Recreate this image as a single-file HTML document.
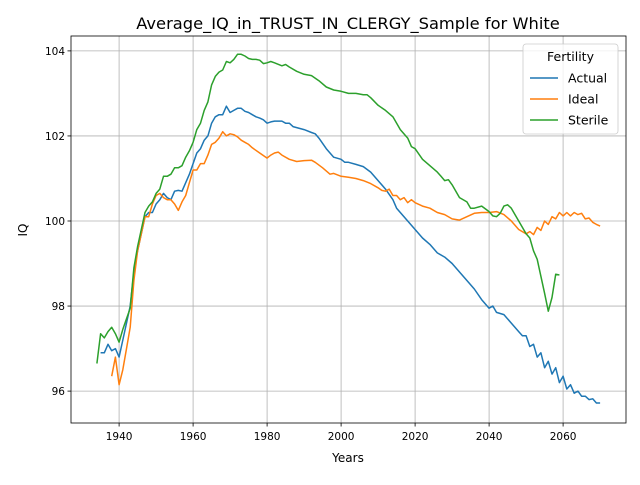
<!DOCTYPE html>
<html><head><meta charset="utf-8"><style>
body{margin:0;background:#fff;font-family:"Liberation Sans","DejaVu Sans",sans-serif}
svg text{font-family:"DejaVu Sans","Liberation Sans",sans-serif}
</style></head><body>
<svg id="chart" width="640" height="480" viewBox="0 0 640 480">
<rect width="640" height="480" fill="#fff"/>
<text x="348" y="29" font-size="16.3" text-anchor="middle">Average_IQ_in_TRUST_IN_CLERGY_Sample for White</text>
<g id="grid"></g><g id="series"></g><g id="axes"></g>
<text x="348" y="462" font-size="12" text-anchor="middle">Years</text>
<text x="27" y="230" font-size="12" text-anchor="middle" transform="rotate(-90 27 230)">IQ</text>
<g id="legend"></g>
</svg>
<script>
const actualYears=[1935,1936,1937,1938,1939,1940,1941,1942,1943,1944,1945,1946,1947,1948,1949,1950,1951,1952,1953,1954,1955,1956,1957,1958,1959,1960,1961,1962,1963,1964,1965,1966,1967,1968,1969,1970,1971,1972,1973,1974,1975,1976,1977,1978,1979,1980,1981,1982,1984,1985,1986,1987,1990,1992,1993,1994,1996,1997,1998,2000,2001,2002,2004,2006,2008,2010,2012,2014,2015,2016,2018,2020,2022,2024,2026,2028,2030,2032,2034,2036,2038,2040,2041,2042,2044,2046,2048,2049,2050,2051,2052,2053,2054,2055,2056,2057,2058,2059,2060,2061,2062,2063,2064,2065,2066,2067,2068,2069,2070];
const actualValues=[96.9,96.9,97.1,96.95,97.0,96.8,97.2,97.6,98.0,98.8,99.3,99.7,100.1,100.2,100.2,100.4,100.5,100.65,100.55,100.5,100.7,100.72,100.7,100.9,101.1,101.35,101.6,101.7,101.9,102.0,102.3,102.45,102.5,102.5,102.7,102.55,102.6,102.65,102.65,102.58,102.55,102.5,102.45,102.42,102.38,102.3,102.33,102.35,102.35,102.3,102.3,102.22,102.15,102.08,102.05,101.95,101.7,101.6,101.5,101.45,101.38,101.38,101.33,101.28,101.15,100.95,100.75,100.5,100.3,100.2,100.0,99.8,99.6,99.45,99.25,99.15,99.0,98.8,98.6,98.4,98.15,97.95,98.0,97.85,97.8,97.6,97.4,97.3,97.3,97.05,97.1,96.8,96.9,96.55,96.7,96.4,96.55,96.2,96.35,96.05,96.15,95.95,96.0,95.88,95.88,95.8,95.82,95.72,95.72];
const idealYears=[1938,1939,1940,1941,1942,1943,1944,1945,1946,1947,1948,1949,1950,1951,1952,1953,1954,1955,1956,1957,1958,1959,1960,1961,1962,1963,1964,1965,1966,1967,1968,1969,1970,1971,1972,1973,1974,1975,1976,1978,1980,1981,1982,1983,1984,1986,1988,1990,1992,1993,1995,1997,1998,2000,2002,2004,2006,2008,2010,2011,2012,2013,2014,2015,2016,2017,2018,2019,2020,2022,2024,2026,2028,2030,2032,2034,2036,2038,2040,2042,2044,2046,2048,2050,2051,2052,2053,2054,2055,2056,2057,2058,2059,2060,2061,2062,2063,2064,2065,2066,2067,2068,2069,2070];
const idealValues=[96.35,96.8,96.15,96.5,97.0,97.5,98.6,99.3,99.7,100.1,100.1,100.4,100.6,100.65,100.55,100.5,100.5,100.4,100.25,100.45,100.6,100.9,101.2,101.2,101.35,101.35,101.55,101.8,101.85,101.95,102.1,102.0,102.05,102.03,101.98,101.9,101.85,101.8,101.72,101.6,101.48,101.55,101.6,101.62,101.55,101.45,101.4,101.42,101.43,101.38,101.25,101.1,101.12,101.05,101.03,101.0,100.95,100.88,100.78,100.72,100.7,100.75,100.6,100.6,100.5,100.55,100.43,100.5,100.43,100.35,100.3,100.2,100.15,100.05,100.02,100.1,100.18,100.2,100.2,100.22,100.15,100.0,99.8,99.7,99.75,99.68,99.85,99.78,100.0,99.92,100.1,100.05,100.2,100.12,100.2,100.12,100.2,100.15,100.18,100.05,100.07,99.97,99.92,99.88];
const sterileYears=[1934,1935,1936,1937,1938,1939,1940,1941,1942,1943,1944,1945,1946,1947,1948,1949,1950,1951,1952,1953,1954,1955,1956,1957,1958,1959,1960,1961,1962,1963,1964,1965,1966,1967,1968,1969,1970,1971,1972,1973,1974,1975,1976,1977,1978,1979,1980,1981,1982,1984,1985,1986,1988,1990,1992,1994,1996,1998,2000,2002,2004,2006,2007,2008,2010,2012,2014,2016,2018,2019,2020,2022,2024,2026,2027,2028,2029,2030,2032,2034,2035,2036,2038,2040,2041,2042,2043,2044,2045,2046,2048,2050,2051,2052,2053,2054,2055,2056,2057,2058,2059];
const sterileValues=[96.65,97.35,97.25,97.4,97.5,97.35,97.15,97.45,97.7,97.95,98.9,99.4,99.8,100.2,100.35,100.45,100.65,100.75,101.05,101.05,101.1,101.25,101.25,101.3,101.5,101.65,101.85,102.15,102.3,102.6,102.8,103.2,103.4,103.5,103.55,103.75,103.72,103.8,103.92,103.92,103.88,103.82,103.8,103.8,103.78,103.7,103.72,103.75,103.72,103.65,103.68,103.62,103.52,103.45,103.42,103.3,103.15,103.08,103.05,103.0,103.0,102.97,102.97,102.9,102.72,102.6,102.45,102.15,101.95,101.75,101.7,101.45,101.3,101.15,101.05,100.95,100.97,100.85,100.55,100.45,100.3,100.3,100.35,100.22,100.12,100.1,100.18,100.35,100.38,100.3,100.0,99.7,99.6,99.3,99.1,98.7,98.3,97.88,98.2,98.75,98.73];
const xTicks=[1940,1960,1980,2000,2020,2040,2060];
const yTicks=[96,98,100,102,104];
const seriesNames=["Actual","Ideal","Sterile"];
const colors=["#1f77b4","#ff7f0e","#2ca02c"];

const L=71,R=626,T=36,B=423;
const X0=1927,X1=2077,Y0=95.25,Y1=104.35;
const xs=v=>L+(v-X0)/(X1-X0)*(R-L);
const ys=v=>B-(v-Y0)/(Y1-Y0)*(B-T);
const NS="http://www.w3.org/2000/svg";
function mk(tag,attrs,parent){const e=document.createElementNS(NS,tag);for(const k in attrs)e.setAttribute(k,attrs[k]);parent.appendChild(e);return e;}
const grid=document.getElementById('grid'),axes=document.getElementById('axes'),ser=document.getElementById('series'),leg=document.getElementById('legend');
xTicks.forEach(t=>{const x=xs(t);
 const g=mk('line',{x1:x,x2:x,y1:T,y2:B,stroke:'#b0b0b0','stroke-width':0.8},grid);
 
 
 mk('line',{x1:x,x2:x,y1:B,y2:B+3.5,stroke:'#000','stroke-width':0.8},axes);
 const tx=mk('text',{x:x,y:B+17,'font-size':10.5,'text-anchor':'middle'},axes);tx.textContent=t;
 
 });
yTicks.forEach(t=>{const y=ys(t);
 const g=mk('line',{x1:L,x2:R,y1:y,y2:y,stroke:'#b0b0b0','stroke-width':0.8},grid);
 
 
 mk('line',{x1:L-3.5,x2:L,y1:y,y2:y,stroke:'#000','stroke-width':0.8},axes);
 const tx=mk('text',{x:L-6,y:y+4,'font-size':10.5,'text-anchor':'end'},axes);tx.textContent=t;
 
 });
const frame=mk('rect',{x:L,y:T,width:R-L,height:B-T,fill:'none',stroke:'#000','stroke-width':0.8},axes);


const data=[[actualYears,actualValues],[idealYears,idealValues],[sterileYears,sterileValues]];
data.forEach((d,i)=>{const pts=d[0].map((yr,j)=>xs(yr).toFixed(1)+','+ys(d[1][j]).toFixed(1)).join(' ');
 const p=mk('polyline',{points:pts,fill:'none',stroke:colors[i],'stroke-width':1.5,'stroke-linejoin':'round'},ser);
 
 });
const lb=mk('rect',{x:523,y:44,width:95,height:90,rx:3,fill:'#fff','fill-opacity':0.8,stroke:'#ccc','stroke-width':0.8},leg);


const lt=mk('text',{x:570.5,y:61,'font-size':12.5,'text-anchor':'middle'},leg);lt.textContent='Fertility';


seriesNames.forEach((n,i)=>{const y=78+i*21;
 const ln=mk('line',{x1:530,x2:558,y1:y,y2:y,stroke:colors[i],'stroke-width':1.5},leg);
 
 
 const t=mk('text',{x:568,y:y+4.5,'font-size':12.5},leg);t.textContent=n;
 
 });
</script>
</body></html>
